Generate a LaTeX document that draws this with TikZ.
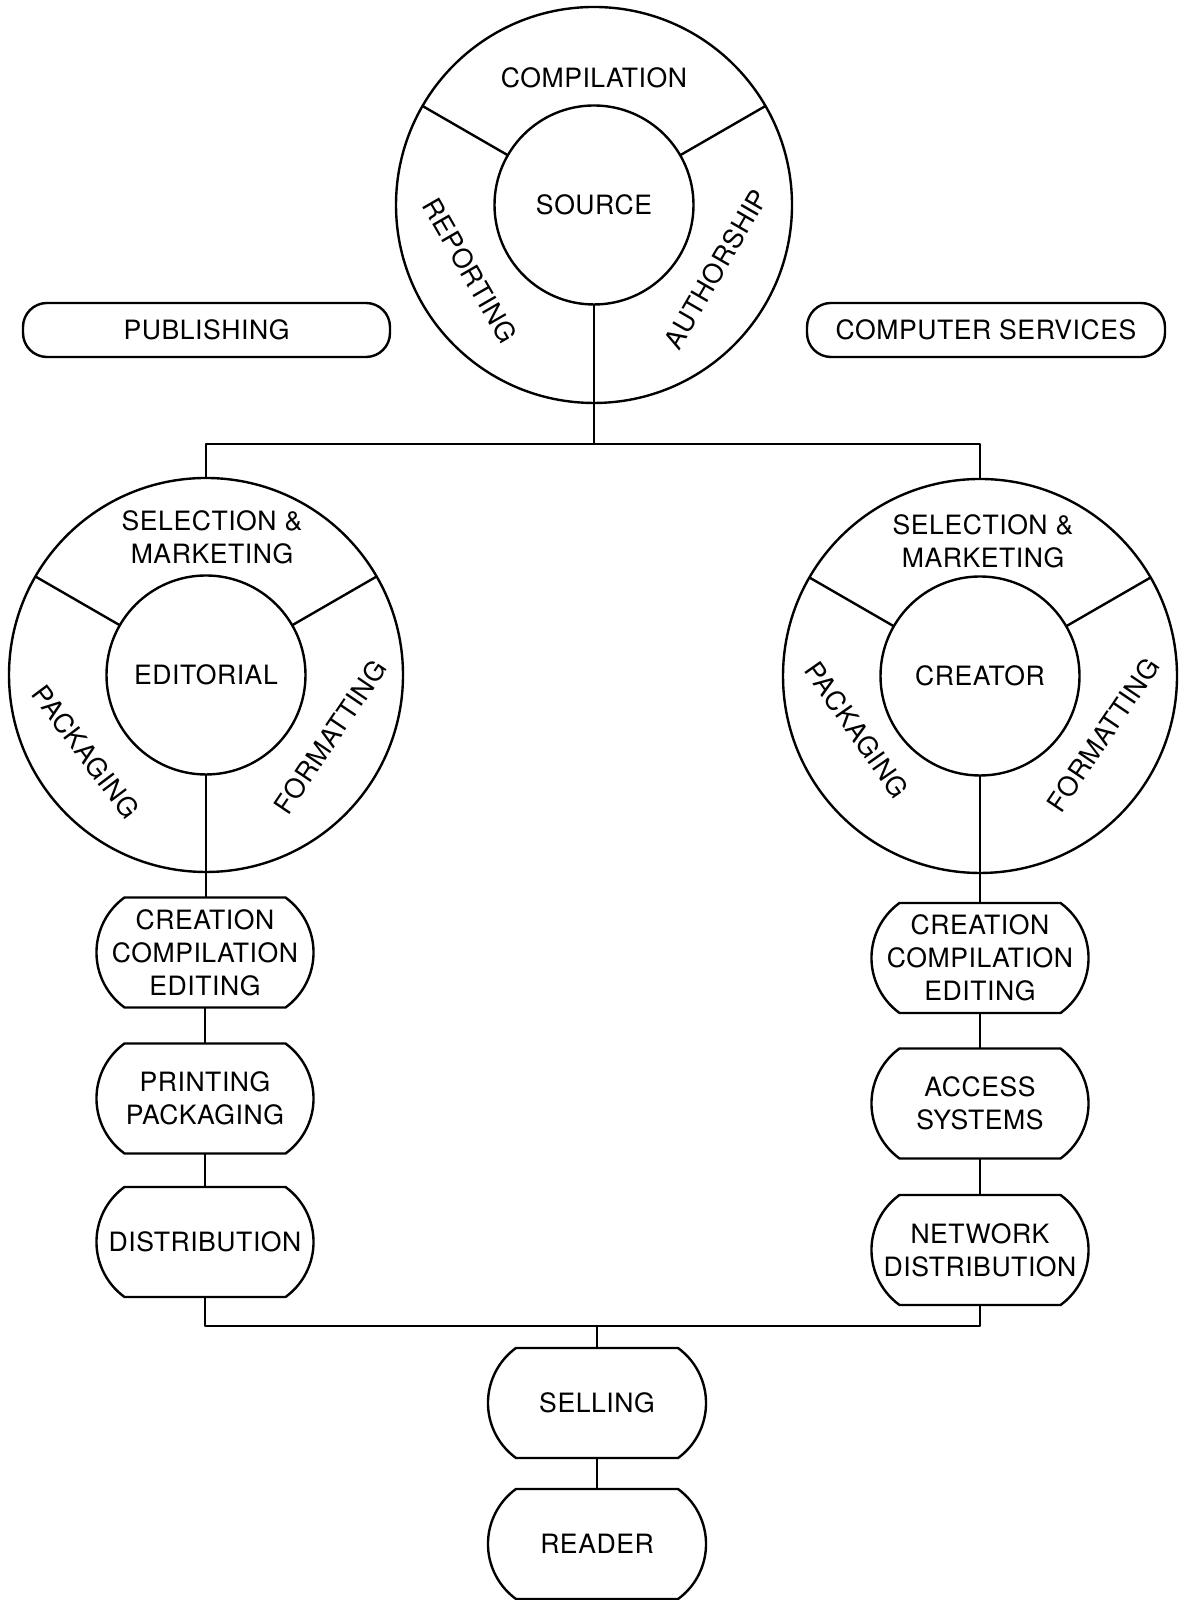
\documentclass[tikz,border=0pt]{standalone}
\usepackage{fontspec}
\setmainfont[LetterSpace=2]{TeX Gyre Heros}
\newcommand\stadpath[1]{%
  \draw ([xshift=14pt]#1.north west) -- ([xshift=-14pt]#1.north east)
    arc[start angle=54, end angle=-54, radius=34pt]
    -- ([xshift=14pt]#1.south west)
    arc[start angle=234, end angle=126, radius=34pt] -- cycle;}
\begin{document}
\begin{tikzpicture}[x=0.5pt,y=0.5pt, line width=1.2pt, line join=round,
  every node/.style={font=\fontsize{13.3pt}{16.5pt}\selectfont, inner sep=0pt, outer sep=0pt},
  ring/.style={circle, draw, minimum size=197pt},
  hub/.style={circle, draw, minimum size=99.5pt, align=center},
  stad/.style={rectangle, minimum width=108.5pt, minimum height=55pt, align=center},
  tag/.style={rectangle, draw, rounded corners=12pt, minimum width=180pt, minimum height=27pt},
  lbl/.style={align=center}]
\fill[white] (0,0) rectangle (1182,1600);
\useasboundingbox (0,0) rectangle (1182,1600);

% top circle
\node[ring, minimum size=198pt] (srcO) at (594,1395) {};
\node[hub] (srcI) at (594,1395) {SOURCE};
\draw (srcI.150) -- (srcO.150);
\draw (srcI.30) -- (srcO.30);
\node[lbl] (tcomp) at (594,1522) {COMPILATION};
\node[lbl, rotate=-60] (trep) at (470,1329) {REPORTING};
\node[lbl, rotate=60] (tauth) at (716,1331) {AUTHORSHIP};

% tags
\node[tag, minimum width=183.5pt] (pub) at (206.5,1270) {PUBLISHING};
\node[tag, minimum width=179pt] (cs) at (986,1270) {COMPUTER SERVICES};

% left circle
\node[ring] (edO) at (206,925) {};
\node[hub] (edI) at (206,925) {EDITORIAL};
\draw (edI.150) -- (edO.150);
\draw (edI.30) -- (edO.30);
\node[lbl] (lsel) at (212,1063) {SELECTION \&\\MARKETING};
\node[lbl, rotate=-53] (lpack) at (86,848) {PACKAGING};
\node[lbl, rotate=56] (lform) at (330,863) {FORMATTING};

% right circle
\node[ring] (crO) at (980,924) {};
\node[hub] (crI) at (980,924) {CREATOR};
\draw (crI.150) -- (crO.150);
\draw (crI.30) -- (crO.30);
\node[lbl] (rsel) at (983,1059) {SELECTION \&\\MARKETING};
\node[lbl, rotate=-55] (rpack) at (857,870) {PACKAGING};
\node[lbl, rotate=56] (rform) at (1103,865) {FORMATTING};

% top connectors
\coordinate (barT) at (594,1156);
\draw (srcI.south) -- (barT);
\draw (edO.north) |- (barT) -| (crO.north);

% left column
\node[stad] (l1) at (205,647.5) {CREATION\\COMPILATION\\EDITING};
\node[stad] (l2) at (205,501.5) {PRINTING\\PACKAGING};
\node[stad] (l3) at (205,358) {DISTRIBUTION};
% right column
\node[stad] (r1) at (980,642) {CREATION\\COMPILATION\\EDITING};
\node[stad] (r2) at (980,496.5) {ACCESS\\SYSTEMS};
\node[stad] (r3) at (980,350) {NETWORK\\DISTRIBUTION};
% bottom
\node[stad, minimum width=109pt] (sell) at (597,197) {SELLING};
\node[stad, minimum width=109pt] (read) at (597,56) {READER};

\foreach \n in {l1,l2,l3,r1,r2,r3,sell,read} {\stadpath{\n}}

\draw (edI.south) -- (edI.south |- l1.north);
\draw (l1.south) -- (l2.north);
\draw (l2.south) -- (l3.north);
\draw (crI.south) -- (r1.north);
\draw (r1.south) -- (r2.north);
\draw (r2.south) -- (r3.north);
\coordinate (barB) at (597,274);
\draw (l3.south) |- (barB) -| (r3.south);
\draw (barB) -- (sell.north);
\draw (sell.south) -- (read.north);
\end{tikzpicture}
\end{document}
